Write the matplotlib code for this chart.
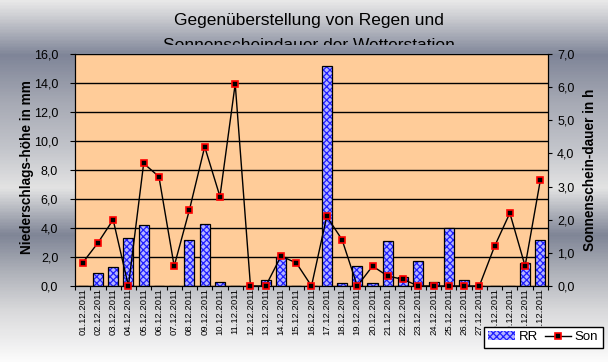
import numpy as np
import matplotlib
matplotlib.use("Agg")
from matplotlib import pyplot as plt
from matplotlib.patches import Patch
from matplotlib.lines import Line2D
from matplotlib.transforms import Bbox, TransformedBbox
from matplotlib.colors import LinearSegmentedColormap

days = ["01.12.2011", "02.12.2011", "03.12.2011", "04.12.2011", "05.12.2011",
        "06.12.2011", "07.12.2011", "08.12.2011", "09.12.2011", "10.12.2011",
        "11.12.2011", "12.12.2011", "13.12.2011", "14.12.2011", "15.12.2011",
        "16.12.2011", "17.12.2011", "18.12.2011", "19.12.2011", "20.12.2011",
        "21.12.2011", "22.12.2011", "23.12.2011", "24.12.2011", "25.12.2011",
        "26.12.2011", "27.12.2011", "28.12.2011", "29.12.2011", "30.12.2011",
        "31.12.2011"]
rain_mm = [0.0, 0.9, 1.3, 3.3, 4.2, 0.0, 0.0, 3.2, 4.3, 0.3,
           0.0, 0.0, 0.4, 2.0, 0.0, 0.0, 15.2, 0.2, 1.4, 0.2,
           3.1, 0.6, 1.7, 0.3, 4.0, 0.4, 0.0, 0.0, 0.0, 1.6, 3.2]
sun_h = [0.7, 1.3, 2.0, 0.0, 3.7, 3.3, 0.6, 2.3, 4.2, 2.7,
         6.1, 0.0, 0.0, 0.9, 0.7, 0.0, 2.1, 1.4, 0.0, 0.6,
         0.3, 0.2, 0.0, 0.0, 0.0, 0.0, 0.0, 1.2, 2.2, 0.6, 3.2]

W, H = 608, 362
narrow = ['Liberation Sans Narrow', 'Liberation Sans', 'DejaVu Sans']
plt.rcParams['font.family'] = ['Liberation Sans', 'DejaVu Sans']
plt.rcParams['hatch.linewidth'] = 0.9


def fmt(v):
    return ("%.1f" % v).replace(".", ",")


def main():
    fig = plt.figure(figsize=(W / 100, H / 100), dpi=100)

    # metallic background
    bg = fig.add_axes([0, 0, 1, 1], zorder=-10)
    stops = [(0.0, "#e8e8e8"), (0.04, "#cfd0d4"), (0.15, "#7f8598"),
             (0.28, "#a6a9b4"), (0.41, "#c3c5cb"), (0.52, "#e3e3e3"),
             (0.65, "#7f8596"), (0.75, "#adb0b8"), (0.86, "#d9d9db"),
             (1.0, "#fbfbfb")]
    cmap = LinearSegmentedColormap.from_list("metal", stops)
    bg.imshow(np.linspace(0, 1, 362).reshape(-1, 1), aspect="auto", cmap=cmap,
              extent=[0, 1, 0, 1], origin="upper")
    bg.axis("off")

    ax = fig.add_axes([75 / W, 1 - 286 / H, 473 / W, 232 / H])
    ax.set_facecolor("#ffcc99")
    x = np.arange(1, len(days) + 1)

    ax.bar(x, rain_mm, width=0.66, color="#b4b4ff", edgecolor="#2020ff",
           hatch="xxxxx", linewidth=0, zorder=2)
    ax.bar(x, rain_mm, width=0.66, fill=False, edgecolor="black",
           linewidth=0.9, zorder=3)
    ax.set_xlim(0.5, len(days) + 0.5)
    ax.set_ylim(0, 16)
    ax.set_yticks(np.arange(0, 17, 2))
    ax.set_yticklabels([fmt(v) for v in np.arange(0, 17, 2)], family=narrow, fontsize=9)
    ax.grid(axis="y", color="black", linewidth=1.0)
    ax.set_axisbelow(True)
    ax.set_xticks(np.arange(0.5, len(days) + 1, 1))
    ax.set_xticklabels([])
    ax.set_xticks(x, minor=True)
    ax.set_xticklabels(days, minor=True, rotation=90, fontsize=6.8, va="top")
    ax.tick_params(axis="x", which="major", length=3, direction="out")
    ax.tick_params(axis="x", which="minor", length=0, pad=1.5)
    ax.tick_params(axis="y", length=3.6, pad=8.5, direction="out")
    for s in ax.spines.values():
        s.set_color("black")
    ax.spines["top"].set_visible(False)

    ax2 = ax.twinx()
    ax2.plot(x, sun_h, color="black", linewidth=1.0, marker="s", markersize=5,
             markerfacecolor="black", markeredgecolor="#ff0000",
             markeredgewidth=1.2, clip_on=False, zorder=5)
    ax2.set_ylim(0, 7)
    ax2.set_yticks(np.arange(0, 8, 1))
    ax2.set_yticklabels([fmt(v) for v in np.arange(0, 8, 1)], family=narrow, fontsize=9)
    ax2.tick_params(axis="y", length=3, pad=3.6, direction="out")
    ax2.spines["top"].set_visible(False)

    fig.text(27.5 / W, 1 - 167 / H, "Niederschlags-höhe in mm", rotation=90,
             ha="center", va="center", fontsize=9.8, fontweight="bold")
    fig.text(590 / W, 1 - 170 / H, "Sonnenschein-dauer in h", rotation=90,
             ha="center", va="center", fontsize=9.8, fontweight="bold")

    fig.text(309 / W, 1 - 25 / H, "Gegenüberstellung von Regen und",
             ha="center", va="baseline", fontsize=12.5)
    t2 = fig.text(309 / W, 1 - 50 / H, "Sonnenscheindauer der Wetterstation",
                  ha="center", va="baseline", fontsize=12.5)
    t2.set_clip_box(TransformedBbox(Bbox([[0, 1 - 45 / H], [1, 1]]), fig.transFigure))
    t2.set_clip_on(True)

    handles = [Patch(facecolor="#b4b4ff", edgecolor="#2020ff", hatch="xxxxx", linewidth=0),
               Line2D([], [], color="black", linewidth=1.0, marker="s", markersize=5,
                      markerfacecolor="black", markeredgecolor="#ff0000",
                      markeredgewidth=1.2)]
    leg = fig.legend(handles, ["RR", "Son"], ncol=2, loc="lower right",
                     bbox_to_anchor=(603 / W, 1 - 348 / H), fontsize=9.5,
                     frameon=True, fancybox=False, framealpha=1, edgecolor="black",
                     borderpad=0.35, handlelength=2.0, handletextpad=0.3,
                     columnspacing=0.5, borderaxespad=0)
    leg.get_frame().set_linewidth(1.0)
    leg.legend_handles[0].set_edgecolor("#2020ff")

    plt.savefig("out.png", dpi=100)


if __name__ == "__main__":
    main()
